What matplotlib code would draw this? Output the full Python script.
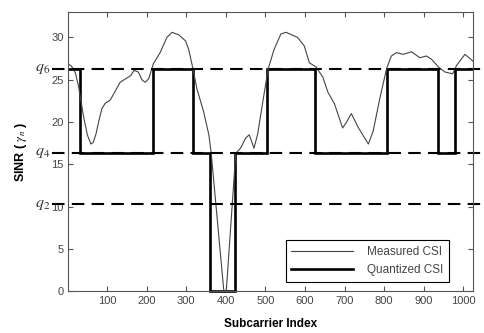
import numpy as np
import matplotlib
matplotlib.use("Agg")
import matplotlib.pyplot as plt

plt.rcParams['font.family'] = ['Liberation Sans', 'DejaVu Sans']
plt.rcParams['mathtext.fontset'] = 'stix'

# measured CSI
meas_x = [1, 10, 20, 28, 40, 50, 59, 65, 72, 80, 87, 95, 108, 120, 133, 150, 160, 168,
          179, 188, 196, 205, 217, 234, 251, 264, 281, 298, 306, 315, 327, 344, 357, 363,
          395, 401, 425, 437, 450, 459, 466, 471, 480, 492, 507, 522, 539, 552, 581, 598,
          611, 628, 645, 658, 674, 695, 705, 717, 734, 760, 772, 789, 806, 818, 831, 848,
          869, 890, 907, 920, 937, 954, 973, 983, 1004, 1024]
meas_y = [26.9, 26.6, 25.8, 24.2, 20.8, 18.5, 17.4, 17.6, 18.6, 20.3, 21.6, 22.2, 22.6,
          23.6, 24.7, 25.2, 25.5, 26.1, 25.9, 25.0, 24.7, 25.1, 26.9, 28.2, 30.0, 30.6,
          30.3, 29.6, 28.6, 26.7, 23.9, 21.2, 18.5, 16.3, 0.0, 0.0, 16.3, 16.9, 18.1, 18.5,
          17.6, 16.9, 18.5, 22.0, 26.3, 28.6, 30.4, 30.6, 30.0, 29.0, 27.0, 26.5, 25.3,
          23.5, 22.2, 19.3, 20.0, 21.0, 19.4, 17.4, 18.9, 22.8, 26.3, 27.8, 28.2, 28.0,
          28.3, 27.6, 27.8, 27.4, 26.5, 25.9, 25.7, 26.7, 28.0, 27.2]

# quantized CSI
q_edges = [1, 31, 217, 316, 361, 423, 505, 626, 806, 935, 979, 1024]
q_vals = [26.3, 16.4, 26.3, 16.4, 0.0, 16.4, 26.3, 16.4, 26.3, 16.4, 26.3]

# quantization thresholds
q_names = ['$q_2$', '$q_4$', '$q_6$']
q_levels = [10.3, 16.4, 26.3]

fig = plt.figure(figsize=(4.85, 3.33), dpi=100)
ax = fig.add_axes([0.140, 0.125, 0.835, 0.839])

ax.plot(meas_x, meas_y, color='#444444', lw=0.8, label='Measured CSI')
ax.stairs(q_vals, q_edges, color='black', lw=1.9, baseline=None,
          label='Quantized CSI', clip_on=False)

for name, lev in zip(q_names, q_levels):
    ax.plot([-39, 1060], [lev, lev], color='black', lw=1.5, dashes=(6, 3.5), clip_on=False)
    ax.text(-43, lev, name, ha='right', va='center', fontsize=11.5, color='#333333')

ax.set_xlim(1, 1024)
ax.set_ylim(0, 33)
ax.set_xticks(np.arange(100, 1001, 100))
ax.set_yticks(np.arange(0, 31, 5))
ax.tick_params(direction='in', top=True, right=True, length=3.5, width=0.8,
               labelsize=8, labelcolor='#444444', color='#555555', pad=3)
for s in ax.spines.values():
    s.set_color('#555555')
    s.set_linewidth(0.8)

ax.set_xlabel('Subcarrier Index', fontsize=8.5, fontweight='bold', labelpad=9)
ax.set_ylabel(r'SINR ( $\gamma_n$ )', fontsize=9, fontweight='bold', labelpad=16)

leg = ax.legend(loc='lower right', bbox_to_anchor=(0.956, 0.012), fontsize=8.5,
                handlelength=5.2, fancybox=False, edgecolor='black', framealpha=1,
                borderpad=0.5, labelspacing=0.5, handletextpad=1.2)
leg.get_frame().set_linewidth(0.8)
for t in leg.get_texts():
    t.set_color('#444444')

fig.savefig('out.png', dpi=100)
